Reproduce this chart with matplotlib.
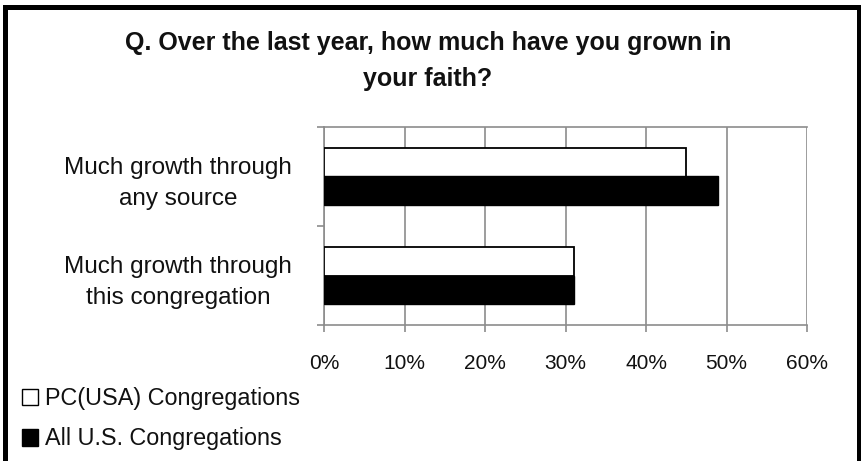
import matplotlib
matplotlib.use('Agg')
import matplotlib.pyplot as plt
from matplotlib.patches import Rectangle
import numpy as np

plt.rcParams['font.family'] = ['Liberation Sans', 'DejaVu Sans']

categories = ['Much growth through\nthis congregation', 'Much growth through\nany source']
pcusa = [31, 45]
all_us = [31, 49]
series_names = ['PC(USA) Congregations', 'All U.S. Congregations']
xticks = [0, 10, 20, 30, 40, 50, 60]

W, H = 861, 461
fig = plt.figure(figsize=(W / 100, H / 100), dpi=100)
ax = fig.add_axes([324 / W, 1 - 325 / H, (807 - 324) / W, (325 - 127) / H])

grid_col = '#8c8c8c'
y = np.arange(len(categories))
h = 0.285
ax.barh(y + h / 2, pcusa, height=h, color='white', edgecolor='black', linewidth=1.3, zorder=3)
ax.barh(y - h / 2, all_us, height=h, color='black', edgecolor='black', linewidth=1, zorder=3)

ax.set_xlim(0, 60)
ax.set_ylim(-0.5, 1.5)
ax.set_xticks(xticks)
ax.set_xticklabels([f'{v}%' for v in xticks], fontsize=15, color='#111111')
ax.set_yticks(y)
ax.set_yticklabels(categories, fontsize=17.5, ha='center', linespacing=1.5, color='#111111')
ax.tick_params(axis='y', which='major', length=0, pad=105)
ax.set_yticks([-0.5, 0.5, 1.5], minor=True)
ax.tick_params(axis='y', which='minor', length=5, color=grid_col, width=1.2)
ax.tick_params(axis='x', length=5, color=grid_col, width=1.2, pad=16)
ax.grid(axis='x', color=grid_col, linewidth=1.2, zorder=0)
ax.spines['right'].set_visible(False)
for s in ['left', 'bottom', 'top']:
    ax.spines[s].set_color(grid_col)
    ax.spines[s].set_linewidth(1.2)

fig.text(428 / W, 1 - 61 / H, 'Q. Over the last year, how much have you grown in\nyour faith?',
         ha='center', va='center', fontsize=18, fontweight='bold', linespacing=1.6,
         color='#111111')

handles = [Rectangle((0, 0), 1, 1, facecolor='white', edgecolor='black', linewidth=1),
           Rectangle((0, 0), 1, 1, facecolor='black', edgecolor='black')]
fig.legend(handles, series_names, loc='upper left', bbox_to_anchor=(22 / W, 1 - 387 / H),
           frameon=False, fontsize=16.8, handlelength=0.7, handleheight=0.7,
           handletextpad=0.3, labelspacing=0.75, borderaxespad=0, borderpad=0,
           labelcolor='#111111')

# outer chart border (bottom edge runs off the canvas)
fig.patches.append(Rectangle((4.5 / W, -0.05), (859 - 4.5) / W, 1.05 - 7.5 / H,
                             transform=fig.transFigure, fill=False,
                             edgecolor='black', linewidth=3.6))

fig.savefig('out.png', dpi=100)
